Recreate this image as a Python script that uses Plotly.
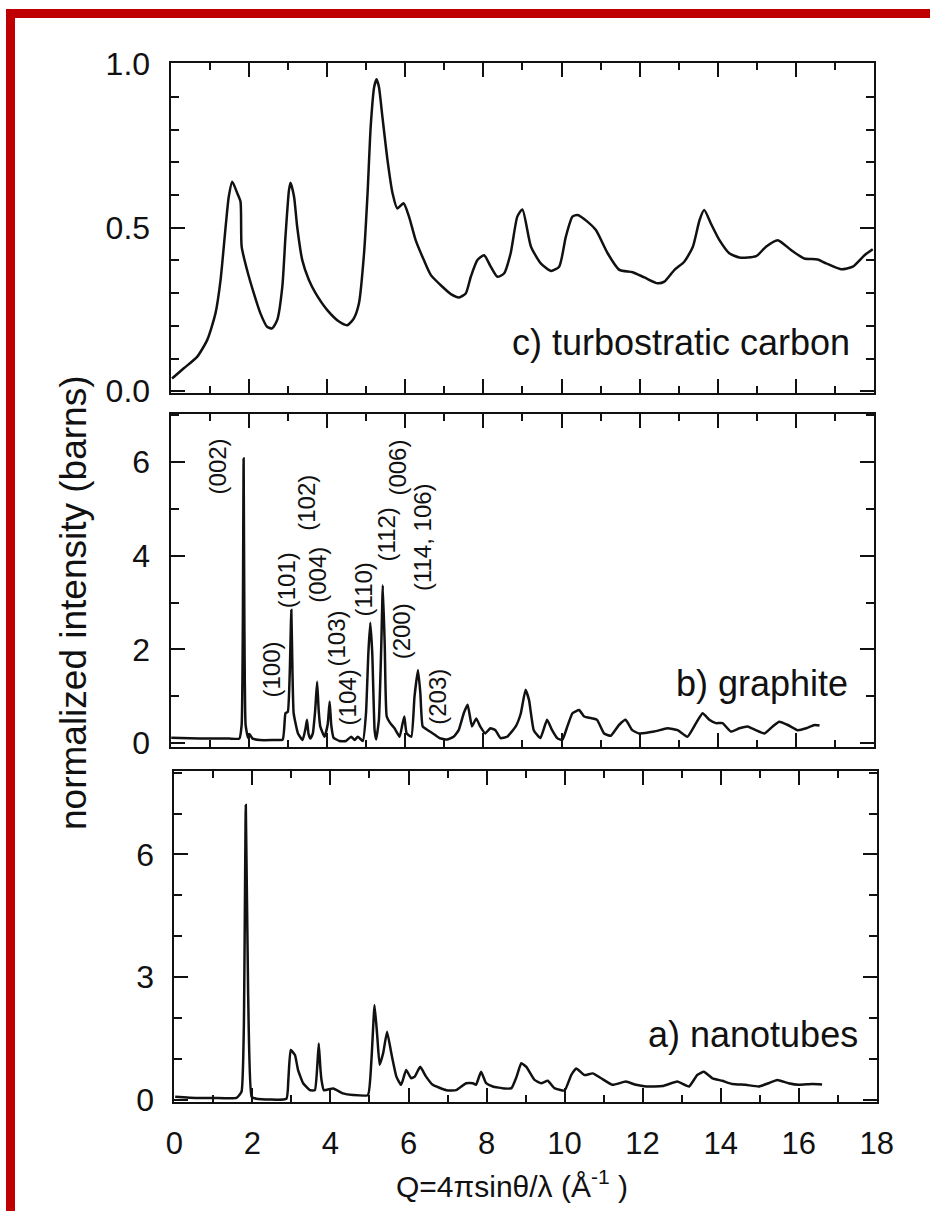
import plotly.graph_objects as go

# ---------------- data ----------------
turbo_q = [0.04, 0.34, 0.68, 0.94, 1.15, 1.28, 1.41, 1.49, 1.58, 1.71, 1.79, 1.82, 1.96, 2.13, 2.30,
           2.47, 2.60, 2.73, 2.86, 2.94, 3.03, 3.07, 3.16, 3.24, 3.37, 3.54, 3.71, 4.01, 4.31, 4.52,
           4.69, 4.82, 4.95, 5.04, 5.12, 5.21, 5.27, 5.33, 5.42, 5.55, 5.68, 5.80, 5.96, 6.10, 6.27,
           6.48, 6.66, 6.95, 7.17, 7.38, 7.55, 7.68, 7.85, 8.02, 8.19, 8.36, 8.53, 8.70, 8.87, 9.00,
           9.22, 9.47, 9.73, 9.94, 10.11, 10.28, 10.41, 10.67, 10.88, 11.18, 11.48, 11.82, 12.12, 12.46, 12.63,
           12.89, 13.14, 13.36, 13.53, 13.65, 13.82, 14.04, 14.29, 14.55, 14.98, 15.23, 15.53, 15.87, 16.21, 16.55,
           16.77, 17.15, 17.45, 17.75, 17.96]
turbo_i = [0.039, 0.07, 0.105, 0.157, 0.238, 0.34, 0.503, 0.595, 0.641, 0.605, 0.58, 0.442, 0.37, 0.30, 0.238,
           0.197, 0.192, 0.218, 0.32, 0.472, 0.615, 0.638, 0.595, 0.503, 0.401, 0.34, 0.30, 0.248, 0.213, 0.202,
           0.223, 0.269, 0.422, 0.605, 0.809, 0.931, 0.954, 0.931, 0.839, 0.707, 0.605, 0.559, 0.575, 0.534, 0.462,
           0.401, 0.355, 0.32, 0.297, 0.287, 0.299, 0.35, 0.401, 0.416, 0.381, 0.35, 0.36, 0.422, 0.534, 0.556,
           0.442, 0.391, 0.368, 0.381, 0.472, 0.534, 0.539, 0.518, 0.493, 0.422, 0.371, 0.364, 0.348, 0.33, 0.335,
           0.371, 0.396, 0.442, 0.523, 0.554, 0.513, 0.462, 0.422, 0.409, 0.413, 0.442, 0.462, 0.432, 0.406, 0.403,
           0.391, 0.373, 0.381, 0.416, 0.434]

graph_q = [0.02, 0.5, 1.0, 1.5, 1.76, 1.82, 1.85, 1.87, 1.89, 1.92, 1.98, 2.02, 2.1, 2.28, 2.6,
           2.87, 2.94, 3.0, 3.05, 3.09, 3.12, 3.15, 3.26, 3.38, 3.45, 3.49, 3.53, 3.58, 3.64, 3.7,
           3.75, 3.79, 3.83, 3.94, 4.02, 4.07, 4.11, 4.17, 4.32, 4.49, 4.62, 4.71, 4.79, 4.92, 5.0,
           5.06, 5.11, 5.16, 5.22, 5.26, 5.33, 5.39, 5.43, 5.48, 5.53, 5.62, 5.73, 5.86, 5.93, 5.98,
           6.04, 6.16, 6.24, 6.33, 6.39, 6.45, 6.58, 6.71, 6.88, 7.07, 7.24, 7.37, 7.5, 7.6, 7.71,
           7.82, 7.92, 8.05, 8.18, 8.31, 8.44, 8.61, 8.83, 8.96, 9.08, 9.17, 9.29, 9.46, 9.63, 9.76,
           9.89, 10.02, 10.15, 10.28, 10.45, 10.58, 10.79, 10.91, 11.09, 11.26, 11.47, 11.64, 11.81, 11.98, 12.37,
           12.71, 12.97, 13.22, 13.44, 13.61, 13.78, 13.95, 14.12, 14.33, 14.55, 14.76, 14.97, 15.19, 15.4, 15.57,
           15.79, 16.04, 16.26, 16.47, 16.6]
graph_i = [0.12, 0.11, 0.1, 0.1, 0.1, 0.4, 2.5, 6.07, 2.5, 0.4, 0.12, 0.2, 0.1, 0.07, 0.07,
           0.08, 0.64, 0.67, 1.5, 2.84, 1.5, 0.64, 0.21, 0.07, 0.3, 0.5, 0.2, 0.1, 0.21, 0.7,
           1.31, 0.7, 0.36, 0.14, 0.4, 0.89, 0.4, 0.12, 0.05, 0.05, 0.14, 0.07, 0.14, 0.05, 0.64,
           1.92, 2.57, 1.92, 0.28, 0.08, 0.5, 2.06, 3.37, 2.06, 0.57, 0.43, 0.32, 0.14, 0.4, 0.57,
           0.21, 0.14, 0.99, 1.56, 1.07, 0.36, 0.28, 0.21, 0.11, 0.08, 0.14, 0.28, 0.64, 0.82, 0.36,
           0.53, 0.36, 0.21, 0.32, 0.28, 0.11, 0.14, 0.36, 0.64, 1.14, 0.92, 0.28, 0.11, 0.5, 0.28,
           0.11, 0.07, 0.36, 0.64, 0.71, 0.57, 0.53, 0.5, 0.21, 0.16, 0.39, 0.5, 0.28, 0.21, 0.25,
           0.32, 0.28, 0.14, 0.43, 0.64, 0.5, 0.43, 0.43, 0.25, 0.32, 0.36, 0.28, 0.21, 0.36, 0.46,
           0.39, 0.28, 0.32, 0.39, 0.38]

nano_q = [0.02, 0.57, 1.0, 1.59, 1.72, 1.78, 1.83, 1.89, 1.98, 2.1, 2.87, 2.92, 2.98, 3.09, 3.17,
          3.3, 3.47, 3.6, 3.66, 3.7, 3.74, 3.77, 3.83, 4.07, 4.32, 4.58, 4.96, 5.05, 5.13, 5.2,
          5.26, 5.35, 5.45, 5.56, 5.69, 5.81, 5.94, 6.07, 6.16, 6.3, 6.45, 6.62, 6.97, 7.22, 7.48,
          7.65, 7.73, 7.86, 7.99, 8.16, 8.46, 8.64, 8.77, 8.89, 9.02, 9.23, 9.4, 9.57, 9.74, 10.0,
          10.17, 10.3, 10.51, 10.72, 10.94, 11.23, 11.57, 11.83, 12.09, 12.51, 12.89, 13.19, 13.4, 13.57, 13.79,
          14.04, 14.3, 14.64, 14.98, 15.23, 15.45, 15.74, 16.0, 16.34, 16.6]
nano_i = [0.08, 0.05, 0.05, 0.05, 0.2, 1.79, 7.21, 2.6, 0.08, 0.03, 0.03, 0.49, 1.22, 1.1, 0.73,
          0.41, 0.24, 0.24, 0.8, 1.38, 0.8, 0.49, 0.24, 0.28, 0.16, 0.12, 0.12, 0.98, 2.32, 1.55,
          0.86, 1.14, 1.67, 1.14, 0.57, 0.37, 0.73, 0.53, 0.57, 0.81, 0.57, 0.37, 0.24, 0.24, 0.41,
          0.41, 0.37, 0.69, 0.41, 0.33, 0.28, 0.29, 0.57, 0.9, 0.81, 0.49, 0.41, 0.47, 0.29, 0.23,
          0.61, 0.77, 0.61, 0.65, 0.53, 0.37, 0.45, 0.37, 0.33, 0.34, 0.45, 0.33, 0.61, 0.69, 0.53,
          0.47, 0.39, 0.37, 0.33, 0.41, 0.49, 0.41, 0.37, 0.39, 0.38]

miller_labels = ["(002)", "(100)", "(101)", "(102)", "(004)", "(103)", "(104)",
                 "(110)", "(112)", "(006)", "(200)", "(114, 106)", "(203)"]
miller_q = [1.20, 2.58, 2.96, 3.47, 3.77, 4.24, 4.53, 4.96, 5.52, 5.81, 5.90, 6.45, 6.84]
miller_i = [5.91, 1.58, 3.48, 5.13, 3.59, 2.24, 0.97, 3.29, 4.46, 5.87, 2.39, 4.39, 0.99]

assert len(turbo_q) == len(turbo_i)
assert len(graph_q) == len(graph_i)
assert len(nano_q) == len(nano_i)
assert len(miller_labels) == len(miller_q) == len(miller_i)

# ---------------- layout geometry ----------------
W, H = 930, 1211
ML, MR, MT, MB = 170, 52, 63, 109
PW = W - ML - MR
PH = H - MT - MB


def px_x(px):
    return (px - ML) / PW


def px_y(py):
    return (H - MB - py) / PH


FONT = "Liberation Sans, Arial, Helvetica, sans-serif"
INK = "#111111"

fig = go.Figure()
fig.add_trace(go.Scatter(x=turbo_q, y=turbo_i, mode="lines",
                         line=dict(color=INK, width=2.5, shape="spline", smoothing=0.6),
                         xaxis="x", yaxis="y", showlegend=False, hoverinfo="skip"))
fig.add_trace(go.Scatter(x=graph_q, y=graph_i, mode="lines",
                         line=dict(color=INK, width=2.5, shape="spline", smoothing=0.4),
                         xaxis="x2", yaxis="y2", showlegend=False, hoverinfo="skip"))
fig.add_trace(go.Scatter(x=nano_q, y=nano_i, mode="lines",
                         line=dict(color=INK, width=2.5, shape="spline", smoothing=0.4),
                         xaxis="x3", yaxis="y3", showlegend=False, hoverinfo="skip"))


def xaxis(domain, labels, anchor):
    return dict(domain=domain, range=[0, 18], anchor=anchor, dtick=2, tick0=0,
                ticks="inside", ticklen=14, tickwidth=2, tickcolor=INK,
                minor=dict(dtick=1, tick0=0, ticks="inside", ticklen=7, tickwidth=2, tickcolor=INK),
                showline=True, linewidth=2, linecolor=INK, mirror="ticks",
                showgrid=False, zeroline=False, showticklabels=labels,
                ticklabelstandoff=13,
                tickfont=dict(family=FONT, size=31, color=INK))


def yaxis(domain, rng, dtick, mdtick, fmt, anchor):
    return dict(domain=domain, range=rng, anchor=anchor, dtick=dtick, tick0=0,
                ticks="inside", ticklen=14, tickwidth=2, tickcolor=INK,
                minor=dict(dtick=mdtick, tick0=0, ticks="inside", ticklen=8, tickwidth=2, tickcolor=INK),
                showline=True, linewidth=2, linecolor=INK, mirror="ticks",
                showgrid=False, zeroline=False, tickformat=fmt,
                ticklabelstandoff=12,
                tickfont=dict(family=FONT, size=32, color=INK))


dom_cb_x = [px_x(170.5), px_x(874.3)]
dom_a_x = [px_x(174.4), px_x(876.7)]

annotations = []
for lab, q, i in zip(miller_labels, miller_q, miller_i):
    annotations.append(dict(x=q, y=i, xref="x2", yref="y2", text=lab, textangle=-90, showarrow=False,
                            xanchor="center", yanchor="middle",
                            font=dict(family=FONT, size=24, color=INK)))

annotations += [
    dict(x=17.42, y=0.15, xref="x", yref="y", text="c) turbostratic carbon", showarrow=False,
         xanchor="right", yanchor="middle", font=dict(family=FONT, size=36, color=INK)),
    dict(x=17.37, y=1.28, xref="x2", yref="y2", text="b) graphite", showarrow=False,
         xanchor="right", yanchor="middle", font=dict(family=FONT, size=36, color=INK)),
    dict(x=17.58, y=1.59, xref="x3", yref="y3", text="a) nanotubes", showarrow=False,
         xanchor="right", yanchor="middle", font=dict(family=FONT, size=36, color=INK)),
    dict(x=px_x(512), y=px_y(1184), xref="paper", yref="paper",
         text="Q=4πsinθ/λ (Å<sup>-1</sup> )", showarrow=False,
         xanchor="center", yanchor="middle", font=dict(family=FONT, size=30, color=INK)),
    dict(x=px_x(73), y=px_y(603), xref="paper", yref="paper",
         text="normalized intensity (barns)", textangle=-90, showarrow=False,
         xanchor="center", yanchor="middle", font=dict(family=FONT, size=37, color=INK)),
]

RED = "#C00000"
shapes = [
    dict(type="rect", xref="paper", yref="paper", x0=px_x(6), x1=px_x(931), y0=px_y(18), y1=px_y(9),
         fillcolor=RED, line=dict(width=0), layer="above"),
    dict(type="rect", xref="paper", yref="paper", x0=px_x(6), x1=px_x(15), y0=px_y(1212), y1=px_y(9),
         fillcolor=RED, line=dict(width=0), layer="above"),
]

fig.update_layout(
    width=W, height=H,
    margin=dict(l=ML, r=MR, t=MT, b=MB, pad=0),
    paper_bgcolor="white", plot_bgcolor="white",
    xaxis=xaxis(dom_cb_x, False, "y"),
    yaxis=yaxis([px_y(393.3), px_y(63.3)], [-0.0064, 1.003], 0.5, 0.1, ".1f", "x"),
    xaxis2=xaxis(dom_cb_x, False, "y2"),
    yaxis2=yaxis([px_y(747), px_y(413.5)], [-0.079, 7.03], 2, 1, "d", "x2"),
    xaxis3=xaxis(dom_a_x, True, "y3"),
    yaxis3=yaxis([px_y(1101.7), px_y(771)], [-0.042, 8.04], 3, 1, "d", "x3"),
    annotations=annotations,
    shapes=shapes,
    showlegend=False,
)

fig.write_html("out.html")
